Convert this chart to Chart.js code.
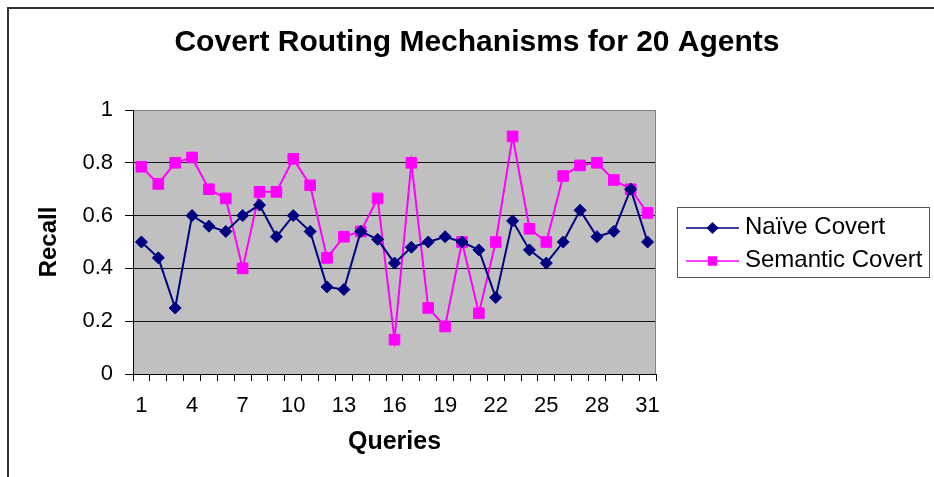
<!DOCTYPE html>
<html>
<head>
<meta charset="utf-8">
<script src="https://cdn.jsdelivr.net/npm/chart.js@4.4.0/dist/chart.umd.min.js"></script>
<style>
  html, body { margin: 0; padding: 0; background: #fff; }
  #wrap { width: 934px; height: 477px; }
</style>
</head>
<body>
<div id="wrap"><canvas id="chart" width="934" height="477"></canvas></div>
<script>
const titleText = 'Covert Routing Mechanisms for 20 Agents';
const xTitle = 'Queries';
const yTitle = 'Recall';

const queries = ['1', '2', '3', '4', '5', '6', '7', '8', '9', '10', '11', '12', '13', '14', '15', '16',
  '17', '18', '19', '20', '21', '22', '23', '24', '25', '26', '27', '28', '29', '30', '31'];
const shownQueryLabels = ['1', '4', '7', '10', '13', '16', '19', '22', '25', '28', '31'];
const recallTicks = [0, 0.2, 0.4, 0.6, 0.8, 1];

const naiveLabel = 'Naïve Covert';
const naiveCovert = [0.50, 0.44, 0.25, 0.60, 0.56, 0.54, 0.60, 0.64, 0.52, 0.60, 0.54, 0.33, 0.32, 0.54, 0.51, 0.42,
  0.48, 0.50, 0.52, 0.50, 0.47, 0.29, 0.58, 0.47, 0.42, 0.50, 0.62, 0.52, 0.54, 0.70, 0.50];

const semanticLabel = 'Semantic Covert';
const semanticCovert = [0.785, 0.72, 0.80, 0.82, 0.70, 0.665, 0.40, 0.69, 0.69, 0.815, 0.715, 0.44, 0.52, 0.54, 0.665, 0.13,
  0.80, 0.25, 0.18, 0.50, 0.23, 0.50, 0.90, 0.55, 0.50, 0.75, 0.79, 0.80, 0.735, 0.70, 0.61];

const NAVY = '#000080';
const MAGENTA = '#ff00ff';
const FONT = '"Liberation Sans", Arial, Helvetica, sans-serif';

Chart.defaults.font.family = FONT;
Chart.defaults.color = '#000';

// white page, grey plot area, outer frame and title
const backdrop = {
  id: 'backdrop',
  beforeDraw(chart) {
    const { ctx, chartArea: a } = chart;
    ctx.save();
    ctx.fillStyle = '#fff';
    ctx.fillRect(0, 0, chart.width, chart.height);
    ctx.fillStyle = '#c0c0c0';
    ctx.fillRect(a.left, a.top, a.right - a.left, a.bottom - a.top);

    ctx.strokeStyle = '#333';
    ctx.lineWidth = 2;
    ctx.beginPath();
    ctx.moveTo(8, chart.height);
    ctx.lineTo(8, 8);
    ctx.lineTo(chart.width, 8);
    ctx.stroke();

    ctx.fillStyle = '#000';
    ctx.font = 'bold 30px ' + FONT;
    ctx.textAlign = 'center';
    ctx.textBaseline = 'alphabetic';
    ctx.fillText(titleText, 477, 51);
    ctx.restore();
  },
  beforeDatasetsDraw(chart) {
    const { ctx, chartArea: a } = chart;
    ctx.save();
    ctx.strokeStyle = '#808080';
    ctx.lineWidth = 1;
    ctx.beginPath();
    ctx.moveTo(a.right - 0.5, a.top);
    ctx.lineTo(a.right - 0.5, a.bottom);
    ctx.stroke();
    ctx.restore();
  }
};

// boxed legend on the right, like the spreadsheet one
const sideLegend = {
  id: 'sideLegend',
  afterDraw(chart) {
    const { ctx } = chart;
    const rows = chart.data.datasets.map((ds, i) => ({
      text: ds.label,
      color: ds.borderColor,
      style: ds.pointStyle,
      radius: i === 0 ? 5 : 5.5,
      y: i === 0 ? 228 : 261
    }));
    ctx.save();
    ctx.strokeStyle = '#555';
    ctx.lineWidth = 1;
    ctx.strokeRect(677.5, 207.5, 252, 70);
    rows.forEach(r => {
      ctx.strokeStyle = r.color;
      ctx.fillStyle = r.color;
      ctx.lineWidth = 1.5;
      ctx.beginPath();
      ctx.moveTo(686, r.y);
      ctx.lineTo(739, r.y);
      ctx.stroke();
      Chart.helpers.drawPoint(ctx, { pointStyle: r.style, radius: r.radius, rotation: 0, borderWidth: 1 }, 712.5, r.y);
      ctx.fillStyle = '#000';
      ctx.font = '24px ' + FONT;
      ctx.textAlign = 'left';
      ctx.textBaseline = 'alphabetic';
      ctx.fillText(r.text, 745, r.y + 6);
    });
    ctx.restore();
  }
};

new Chart(document.getElementById('chart'), {
  type: 'line',
  data: {
    labels: queries,
    datasets: [{
      label: naiveLabel,
      data: naiveCovert,
      borderColor: NAVY,
      backgroundColor: NAVY,
      borderWidth: 2,
      pointStyle: 'rectRot',
      pointRadius: 6,
      pointBorderWidth: 1,
      tension: 0
    }, {
      label: semanticLabel,
      data: semanticCovert,
      borderColor: MAGENTA,
      backgroundColor: MAGENTA,
      borderWidth: 2,
      pointStyle: 'rect',
      pointRadius: 7.5,
      pointBorderWidth: 1,
      tension: 0
    }]
  },
  options: {
    responsive: false,
    animation: false,
    events: [],
    layout: { padding: { left: 0, right: 278, top: 110, bottom: 0 } },
    plugins: {
      legend: { display: false },
      title: { display: false },
      tooltip: { enabled: false }
    },
    scales: {
      x: {
        offset: true,
        afterFit: s => { s.height = 103; },
        grid: {
          offset: true,
          drawOnChartArea: false,
          drawTicks: true,
          tickLength: 7,
          color: '#000'
        },
        border: { display: true, color: '#000', width: 1 },
        ticks: {
          autoSkip: false,
          maxRotation: 0,
          padding: 12,
          font: { size: 22 },
          callback: function (value) {
            const lab = this.getLabelForValue(value);
            return shownQueryLabels.includes(lab) ? lab : '';
          }
        },
        title: {
          display: true,
          text: xTitle,
          font: { size: 25, weight: 'bold' },
          padding: { top: 0, bottom: 20 }
        }
      },
      y: {
        min: 0,
        max: 1,
        afterFit: s => { s.width = 133; },
        afterBuildTicks: s => { s.ticks = recallTicks.map(v => ({ value: v })); },
        grid: {
          color: c => (c.tick && c.tick.value === 1 ? '#808080' : '#111'),
          tickColor: '#000',
          tickLength: 8,
          lineWidth: 1
        },
        border: { display: true, color: '#000', width: 1 },
        ticks: {
          padding: 12,
          font: { size: 22 },
          callback: v => String(+v.toFixed(1))
        },
        title: {
          display: true,
          text: yTitle,
          font: { size: 24, weight: 'bold' },
          padding: { top: 35, bottom: 0 }
        }
      }
    }
  },
  plugins: [backdrop, sideLegend]
});
</script>
</body>
</html>
